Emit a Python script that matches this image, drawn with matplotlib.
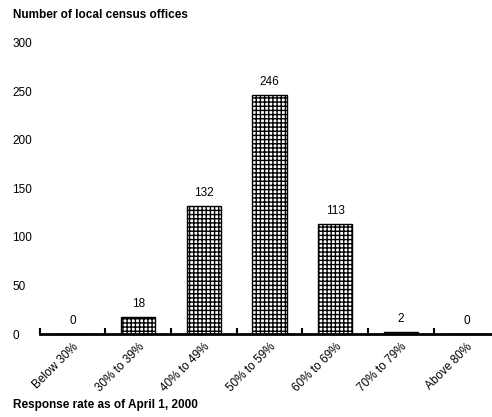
import numpy as np
import matplotlib
matplotlib.use('Agg')
import matplotlib.pyplot as plt

plt.rcParams['font.family'] = ['Liberation Sans', 'DejaVu Sans']
plt.rcParams['hatch.color'] = '#9a9a9a'
plt.rcParams['hatch.linewidth'] = 1.0

cats = ['Below 30%', '30% to 39%', '40% to 49%', '50% to 59%',
        '60% to 69%', '70% to 79%', 'Above 80%']
counts = [0, 18, 132, 246, 113, 2, 0]
yticks = [0, 50, 100, 150, 200, 250, 300]

x = np.arange(len(cats))

fig = plt.figure(figsize=(4.92, 4.17), dpi=100)
ax = fig.add_axes([0.081, 0.199, 0.919, 0.698])

ax.bar(x, counts, width=0.52, facecolor='white', edgecolor='black',
       linewidth=1.0, hatch='++++', zorder=2)
for xi, v in zip(x, counts):
    ax.annotate(str(v), (xi, v), xytext=(0, 5), textcoords='offset points',
                ha='center', va='bottom', fontsize=8.5)

ax.set_xlim(-0.5, 6.39)
ax.set_ylim(0, 300)

for s in ['top', 'right', 'left']:
    ax.spines[s].set_visible(False)
ax.spines['bottom'].set_linewidth(2.0)
ax.spines['bottom'].set_zorder(3)

# boundary ticks pointing up, labels centred on bars
ax.set_xticks(x - 0.5)
ax.set_xticklabels([])
ax.tick_params(axis='x', which='major', direction='in', length=4, width=1.5)
ax.set_xticks(x, minor=True)
ax.set_xticklabels(cats, minor=True, rotation=45, ha='right',
                   rotation_mode='anchor', fontsize=8.5)
ax.tick_params(axis='x', which='minor', length=0, pad=5)

ax.set_yticks(yticks)
ax.set_yticklabels([str(t) for t in yticks], fontsize=8.5, ha='left')
ax.tick_params(axis='y', length=0, pad=20)

fig.text(0.026, 0.965, 'Number of local census offices', fontsize=8.5,
         fontweight='bold', ha='left', va='center')
fig.text(0.026, 0.028, 'Response rate as of April 1, 2000', fontsize=8.5,
         fontweight='bold', ha='left', va='center')

fig.savefig('out.png', dpi=100)
